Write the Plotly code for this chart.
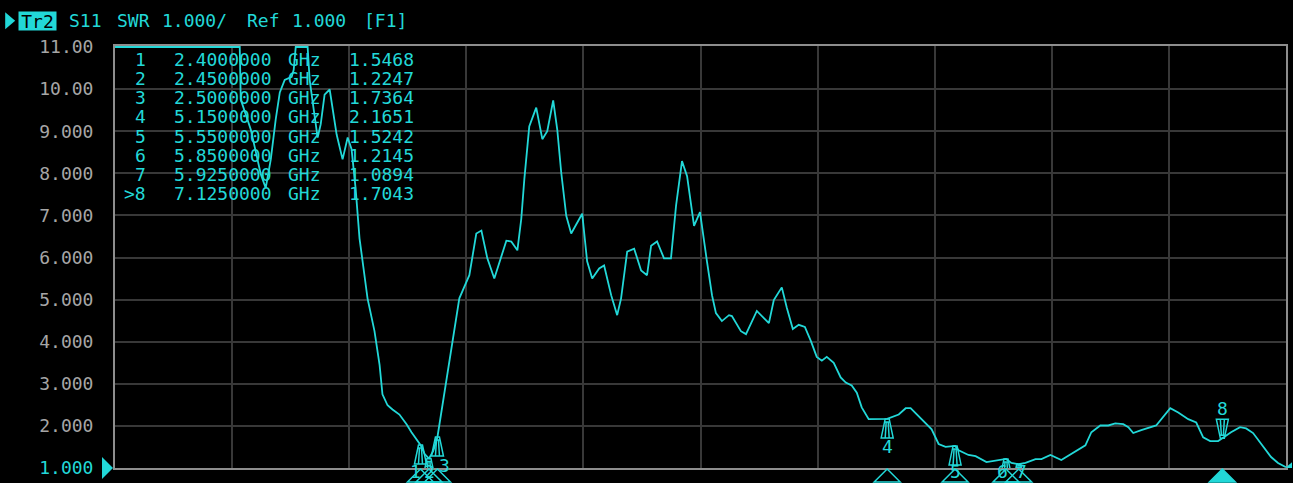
import plotly.graph_objects as go

# ---------------- data ----------------
freq_ghz = [0.600, 1.335, 1.341, 1.371, 1.400, 1.429, 1.459, 1.488, 1.518, 1.547,
            1.571, 1.600, 1.641, 1.653, 1.665, 1.735, 1.747, 1.771, 1.794, 1.812,
            1.835, 1.865, 1.906, 1.941, 1.971, 1.994, 2.018, 2.041, 2.088, 2.129,
            2.159, 2.176, 2.206, 2.235, 2.276, 2.318, 2.347, 2.400, 2.425, 2.450,
            2.475, 2.500, 2.553, 2.600, 2.629, 2.688, 2.706, 2.729, 2.759, 2.794,
            2.835, 2.876, 2.906, 2.935, 2.971, 2.994, 3.012, 3.041, 3.082, 3.118,
            3.147, 3.182, 3.206, 3.229, 3.259, 3.288, 3.318, 3.353, 3.382, 3.412,
            3.453, 3.482, 3.524, 3.559, 3.582, 3.618, 3.659, 3.700, 3.735, 3.759,
            3.794, 3.835, 3.876, 3.906, 3.941, 3.971, 4.012, 4.047, 4.088, 4.118,
            4.141, 4.176, 4.218, 4.235, 4.288, 4.318, 4.382, 4.453, 4.482, 4.529,
            4.559, 4.594, 4.629, 4.665, 4.700, 4.735, 4.765, 4.794, 4.835, 4.876,
            4.906, 4.941, 4.971, 5.000, 5.041, 5.150, 5.218, 5.259, 5.288, 5.324,
            5.382, 5.412, 5.453, 5.494, 5.550, 5.571, 5.629, 5.671, 5.735, 5.788,
            5.850, 5.882, 5.925, 5.965, 6.024, 6.059, 6.112, 6.176, 6.235, 6.318,
            6.353, 6.406, 6.453, 6.494, 6.541, 6.571, 6.600, 6.647, 6.735, 6.765,
            6.818, 6.865, 6.924, 6.971, 7.012, 7.053, 7.100, 7.125, 7.176, 7.229,
            7.265, 7.306, 7.353, 7.412, 7.453, 7.500]

swr = [11.00, 11.00, 9.75, 9.40, 9.04, 8.52, 7.98, 7.65, 8.33, 9.28,
       9.92, 10.22, 10.29, 10.46, 11.00, 11.00, 10.22, 9.51, 8.85, 9.16,
       9.87, 9.99, 8.92, 8.33, 8.85, 8.57, 7.63, 6.45, 5.03, 4.25,
       3.45, 2.75, 2.49, 2.39, 2.27, 2.04, 1.85, 1.5468, 1.33, 1.2247,
       1.40, 1.7364, 3.08, 4.25, 5.03, 5.58, 5.98, 6.57, 6.64, 5.98,
       5.50, 6.05, 6.40, 6.38, 6.17, 6.92, 7.86, 9.11, 9.56, 8.81,
       9.00, 9.73, 9.04, 8.03, 6.99, 6.57, 6.80, 7.04, 5.91, 5.50,
       5.74, 5.81, 5.10, 4.63, 5.03, 6.14, 6.21, 5.69, 5.58, 6.28,
       6.38, 5.98, 5.98, 7.23, 8.29, 7.93, 6.75, 7.08, 5.91, 5.10,
       4.68, 4.49, 4.63, 4.61, 4.25, 4.18, 4.73, 4.44, 4.99, 5.29,
       4.80, 4.30, 4.40, 4.35, 4.02, 3.64, 3.55, 3.64, 3.50, 3.15,
       3.03, 2.96, 2.79, 2.44, 2.16, 2.1651, 2.27, 2.42, 2.42, 2.27,
       2.04, 1.92, 1.57, 1.50, 1.5242, 1.42, 1.31, 1.28, 1.14, 1.17,
       1.2145, 1.12, 1.0894, 1.12, 1.21, 1.21, 1.31, 1.19, 1.33, 1.54,
       1.85, 2.01, 2.01, 2.06, 2.04, 1.97, 1.83, 1.90, 2.01, 2.16,
       2.42, 2.32, 2.16, 2.08, 1.73, 1.64, 1.64, 1.7043, 1.85, 1.97,
       1.94, 1.83, 1.57, 1.26, 1.12, 1.02]

marker_names = ["1", "2", "3", "4", "5", "6", "7", "8"]
marker_freq_ghz = [2.4, 2.45, 2.5, 5.15, 5.55, 5.85, 5.925, 7.125]
marker_swr = [1.5468, 1.2247, 1.7364, 2.1651, 1.5242, 1.2145, 1.0894, 1.7043]
active_marker = "8"

y_tick_values = [1, 2, 3, 4, 5, 6, 7, 8, 9, 10, 11]
y_tick_labels = ["1.000", "2.000", "3.000", "4.000", "5.000", "6.000",
                 "7.000", "8.000", "9.000", "10.00", "11.00"]

f_start, f_stop = 0.6, 7.5
swr_bottom, swr_top = 1.0, 11.0
label_floor_swr = 1.65   # markers below this get their label pinned at the axis

# ---------------- styling ----------------
W, H = 1293, 483
PL, PR, PT, PB = 115, 1288, 46, 471
# a sliver of headroom so the over-range (clamped) trace stays visible on the top frame
y_view_top = swr_top + (swr_top - swr_bottom) * 1.0 / (PB - PT - 1)
CYAN = "#22d8d8"
GRAY_TXT = "#a6a6a6"
GRID = "#383838"
FRAME = "#8e8e8e"
FONT = "DejaVu Sans Mono"
FS = 18
label_nudge_px = [-5, 1, 7, 0, 0, -3, 3, 0]   # keeps crowded marker labels apart


def pxx(x):
    return (x - PL) / (PR - PL)


def pxy(y):
    return (PB - y) / (PB - PT)


fig = go.Figure()
fig.add_trace(go.Scatter(x=freq_ghz, y=swr, mode="lines",
                         line=dict(color=CYAN, width=1.8),
                         hoverinfo="skip", showlegend=False))

shapes = []
annotations = []

UP_MARK = "M-2,0 L2,0 L6,-19 L-6,-19 Z M-3,-3 L3,-3 M-1,-3 L-2,-19 M1,-3 L2,-19"
DOWN_MARK = "M-2,0 L2,0 L6,19 L-6,19 Z M-3,3 L3,3 M-1,3 L-2,19 M1,3 L2,19"

# on-trace markers
for name, f, v, nudge in zip(marker_names, marker_freq_ghz, marker_swr, label_nudge_px):
    active = name == active_marker
    shapes.append(dict(type="path", xref="x", yref="y", xsizemode="pixel",
                       ysizemode="pixel", xanchor=f, yanchor=v,
                       path=DOWN_MARK if active else UP_MARK,
                       line=dict(color=CYAN, width=1.5), layer="above"))
    if active:
        annotations.append(dict(x=f, y=v, xref="x", yref="y", text=name,
                                showarrow=False, yshift=30, xshift=nudge,
                                font=dict(family=FONT, size=FS, color=CYAN)))
    elif v < label_floor_swr:
        annotations.append(dict(x=f, y=0, xref="x", yref="paper", text=name,
                                showarrow=False, yshift=-3, xshift=nudge,
                                yanchor="middle",
                                font=dict(family=FONT, size=FS, color=CYAN)))
    else:
        annotations.append(dict(x=f, y=v, xref="x", yref="y", text=name,
                                showarrow=False, yshift=-28, xshift=nudge,
                                font=dict(family=FONT, size=FS, color=CYAN)))
    # bottom stimulus indicators
    shapes.append(dict(type="path", xref="x", yref="paper", xsizemode="pixel",
                       ysizemode="pixel", xanchor=f, yanchor=0,
                       path="M0,-1 L-13,-14 L13,-14 Z",
                       line=dict(color=CYAN, width=1.5),
                       fillcolor=CYAN if active else "rgba(0,0,0,0)",
                       layer="above"))

# marker table
row_y0, row_dy = 59.5, 19.3
for i, (name, f, v) in enumerate(zip(marker_names, marker_freq_ghz, marker_swr)):
    yy = pxy(row_y0 + i * row_dy)
    label = (">" + name) if name == active_marker else name
    for txt, xpos, anchor in [(label, 148, "right"),
                              ("%.7f" % f, 172, "left"),
                              ("GHz", 286, "left"),
                              ("%.4f" % v, 347, "left")]:
        annotations.append(dict(x=pxx(xpos), y=yy, xref="paper", yref="paper",
                                xanchor=anchor, yanchor="middle", text=txt,
                                showarrow=False,
                                font=dict(family=FONT, size=FS, color=CYAN)))

# title bar
ty = pxy(20.5)
annotations.append(dict(x=pxx(18), y=ty, xref="paper", yref="paper",
                        xanchor="left", yanchor="middle", text="Tr2",
                        showarrow=False, bgcolor=CYAN, borderpad=0,
                        width=37, height=18,
                        font=dict(family=FONT, size=FS, color="#000000")))
for txt, xpos in [("S11", 67), ("SWR", 115), ("1.000/", 160),
                  ("Ref", 245), ("1.000", 290), ("[F1]", 362)]:
    annotations.append(dict(x=pxx(xpos), y=ty, xref="paper", yref="paper",
                            xanchor="left", yanchor="middle", text=txt,
                            showarrow=False,
                            font=dict(family=FONT, size=FS, color=CYAN)))
shapes.append(dict(type="path", xref="paper", yref="paper", xsizemode="pixel",
                   ysizemode="pixel", xanchor=pxx(5), yanchor=ty,
                   path="M0,8.5 L10,0 L0,-8.5 Z", line=dict(width=0),
                   fillcolor=CYAN))
# reference level indicator
shapes.append(dict(type="path", xref="paper", yref="paper", xsizemode="pixel",
                   ysizemode="pixel", xanchor=0, yanchor=0,
                   path="M-13,11 L-2,0 L-13,-11 Z", line=dict(width=0),
                   fillcolor=CYAN))
# trace end indicator at right edge
shapes.append(dict(type="path", xref="paper", yref="y", xsizemode="pixel",
                   ysizemode="pixel", xanchor=1, yanchor=swr[-1],
                   path="M0,0 L6,5 L6,-5 Z", line=dict(width=0),
                   fillcolor=CYAN))

tick_text = []
for val, lab in zip(y_tick_values, y_tick_labels):
    if val == swr_bottom:
        tick_text.append('<span style="color:%s">%s</span>' % (CYAN, lab))
    else:
        tick_text.append(lab)

fig.update_layout(
    width=W, height=H,
    margin=dict(l=PL, r=W - PR, t=PT, b=H - PB, pad=0),
    paper_bgcolor="#000000", plot_bgcolor="#000000",
    shapes=shapes, annotations=annotations,
    showlegend=False,
    xaxis=dict(range=[f_start, f_stop], tick0=f_start,
               dtick=(f_stop - f_start) / 10, showticklabels=False,
               showgrid=True, gridcolor=GRID, gridwidth=2, zeroline=False,
               showline=True, linecolor=FRAME, linewidth=2, mirror=True,
               ticks="", fixedrange=True, layer="below traces"),
    yaxis=dict(range=[swr_bottom, y_view_top], tickvals=y_tick_values,
               ticktext=tick_text, showgrid=True, gridcolor=GRID, gridwidth=2,
               zeroline=False, showline=True, linecolor=FRAME, linewidth=2,
               mirror=True, ticks="", ticklabelstandoff=16,
               tickfont=dict(family=FONT, size=FS, color=GRAY_TXT),
               fixedrange=True, layer="below traces"),
)

fig.write_html("out.html")
